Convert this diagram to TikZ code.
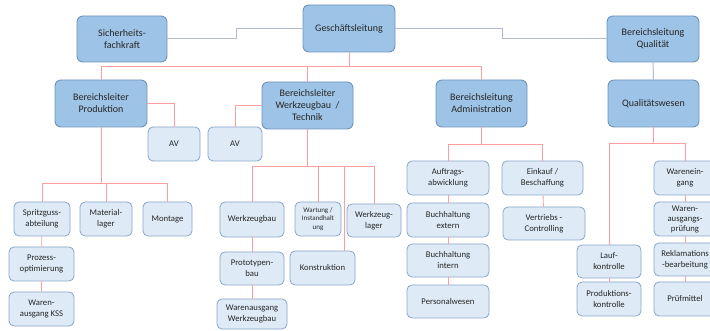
\documentclass[tikz,border=0pt]{standalone}
\usepackage{fontspec}
\setmainfont{Carlito}
\definecolor{leadfill}{HTML}{9DC3E6}
\definecolor{leadline}{HTML}{6F93BD}
\definecolor{unitfill}{HTML}{DEEBF7}
\definecolor{unitline}{HTML}{8AA5C6}
\definecolor{redline}{HTML}{FF9E9E}
\definecolor{greyline}{HTML}{B3B8D3}
\definecolor{textc}{HTML}{262626}
\tikzset{
  leadbox/.style={draw=leadline, fill=leadfill, rounded corners=6pt, line width=0.9pt,
    align=center, inner sep=1pt, text=textc, font=\fontsize{10}{12}\selectfont},
  unitbox/.style={draw=unitline, fill=unitfill, rounded corners=5pt, line width=0.8pt,
    align=center, inner sep=1pt, text=textc, font=\fontsize{8.7}{11}\selectfont},
  sz/.style 2 args={minimum width=#1, minimum height=#2},
  rline/.style={draw=redline, line width=0.8pt},
  gline/.style={draw=greyline, line width=1pt}
}
\begin{document}
\begin{tikzpicture}[x=1pt,y=-1pt]
\useasboundingbox (0,0) rectangle (710,331);
\node(sf)[leadbox, sz={90}{46}] at (122,39) {Sicherheits-\\fachkraft};
\node(gl)[leadbox, sz={92}{47}] at (349,28.5) {Geschäftsleitung};
\node(bq)[leadbox, sz={92}{46}] at (653,39) {Bereichsleitung\\Qualität};
\node(bp)[leadbox, sz={92}{47}] at (101,103.5) {Bereichsleiter\\Produktion};
\node(bw)[leadbox, sz={91}{47}] at (307.5,105.5) {Bereichsleiter\\Werkzeugbau~~/\\Technik};
\node(ba)[leadbox, sz={91}{47}] at (481.5,103.5) {Bereichsleitung\\Administration};
\node(qw)[leadbox, sz={91}{47}] at (653.5,103.5) {Qualitätswesen};
\node(av1)[unitbox, sz={52}{34}] at (174,144) {AV};
\node(av2)[unitbox, sz={54}{34}] at (235,144) {AV};
\node(sg)[unitbox, sz={56}{34}] at (42,219) {Spritzguss-\\abteilung};
\node(ml)[unitbox, sz={52}{34}] at (106,219) {Material-\\lager};
\node(mo)[unitbox, sz={49}{34}] at (167.5,219) {Montage};
\node(po)[unitbox, sz={65}{34}] at (41.5,264) {Prozess-\\optimierung};
\node(wk)[unitbox, sz={65}{34}] at (41.5,309) {Waren-\\ausgang KSS};
\node(wb)[unitbox, sz={64}{35}] at (252,219.5) {Werkzeugbau};
\node(wi)[unitbox, sz={46}{34}, font=\fontsize{7}{8.5}\selectfont] at (318,219) {Wartung /\\Instandhalt\\ung};
\node(wl)[unitbox, sz={54}{33}] at (374,220.5) {Werkzeug-\\lager};
\node(pb)[unitbox, sz={64}{33}] at (252,268.5) {Prototypen-\\bau};
\node(ko)[unitbox, sz={65}{34}] at (322.5,268) {Konstruktion};
\node(ww)[unitbox, sz={70}{30}] at (252,314) {Warenausgang\\Werkzeugbau};
\node(aa)[unitbox, sz={82}{34}] at (448,178) {Auftrags-\\abwicklung};
\node(be)[unitbox, sz={82}{34}] at (448,220) {Buchhaltung\\extern};
\node(bi)[unitbox, sz={82}{33}] at (448,260.5) {Buchhaltung\\intern};
\node(pw)[unitbox, sz={82}{33}] at (448,301.5) {Personalwesen};
\node(eb)[unitbox, sz={81}{34}] at (542.5,178) {Einkauf /\\Beschaffung};
\node(vc)[unitbox, sz={82}{33}] at (544,223.5) {Vertriebs -\\Controlling};
\node(lk)[unitbox, sz={64}{33}] at (609,261.5) {Lauf-\\kontrolle};
\node(pk)[unitbox, sz={64}{34}] at (609,299) {Produktions-\\kontrolle};
\node(we)[unitbox, sz={62}{34}] at (685,178) {Warenein-\\gang};
\node(wa)[unitbox, sz={62}{34}, font=\fontsize{8.7}{10}\selectfont] at (685,219) {Waren-\\ausgangs-\\prüfung};
\node(rb)[unitbox, sz={62}{33}] at (685,259.5) {Reklamations\\-bearbeitung};
\node(pm)[unitbox, sz={62}{34}] at (685,299) {Prüfmittel};
\draw[gline] (sf.east) -- ++(69,0) |- (gl.west);
\draw[gline] (gl.east) -- ++(107,0) |- (bq.west);
\draw[gline] (bq) -- (qw);
\draw[rline] (gl.south) -- ++(0,14) -| (bp.north);
\draw[rline] (gl.south) -- ++(0,14) -| (bw.north);
\draw[rline] (gl.south) -- ++(0,14) -| (ba.north);
\draw[rline] (bp.east) -| (av1.north);
\draw[rline] (bw.west) -| (av2.north);
\draw[rline] (bp.south) -- ++(0,56) -| (sg.north);
\draw[rline] (bp.south) -- ++(0,56) -| (ml.north);
\draw[rline] (bp.south) -- ++(0,56) -| (mo.north);
\draw[rline] (sg) -- (po) -- (wk);
\draw[rline] (bw.south) -- ++(0,37) -| (wb.north);
\draw[rline] (bw.south) -- ++(0,37) -| (wi.north);
\draw[rline] (bw.south) -- ++(0,37) -| (wl.north);
\draw[rline] (bw.south) -- ++(0,37) -| ([xshift=21.5pt]ko.north);
\draw[rline] (wb) -- (pb) -- (ww);
\draw[rline] (ba.south) -- ++(0,17) -| (aa.north);
\draw[rline] (ba.south) -- ++(0,17) -| (eb.north);
\draw[rline] (aa) -- (be) -- (bi) -- (pw);
\draw[rline] (eb) -- (vc);
\draw[rline] (qw.south) -- ++(0,16) -| (lk.north);
\draw[rline] (qw.south) -- ++(0,16) -| (we.north);
\draw[rline] (lk) -- (pk);
\draw[rline] (we) -- (wa) -- (rb) -- (pm);
\end{tikzpicture}
\end{document}
